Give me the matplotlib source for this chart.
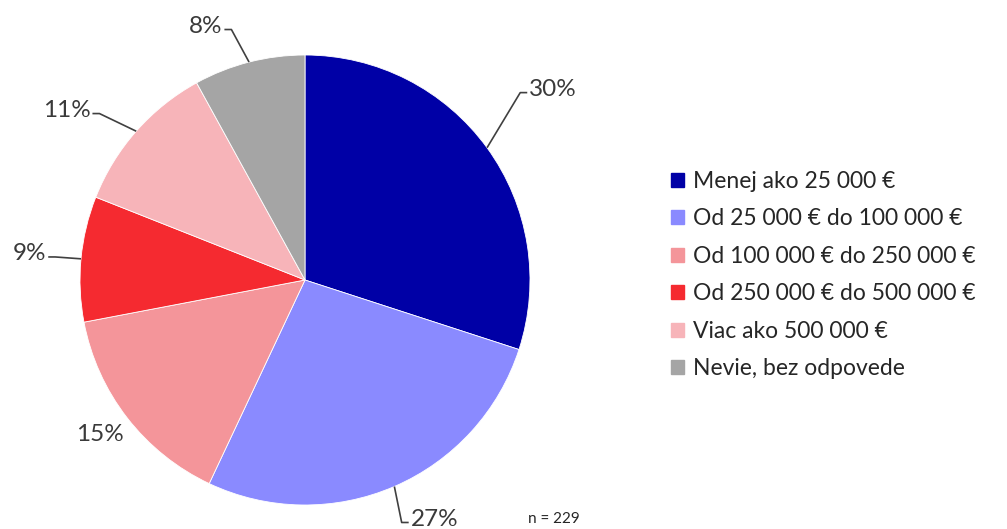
import numpy as np
import matplotlib.pyplot as plt

plt.rcParams['font.family'] = ['Lato', 'DejaVu Sans']

categories = ['Menej ako 25 000 €', 'Od 25 000 € do 100 000 €',
              'Od 100 000 € do 250 000 €', 'Od 250 000 € do 500 000 €',
              'Viac ako 500 000 €', 'Nevie, bez odpovede']
shares = [30, 27, 15, 9, 11, 8]
colors = ['#0000A6', '#8A8AFF', '#F4959A', '#F52A30', '#F7B4B9', '#A5A5A5']
n_resp = 229

# label placement: (distance in radii, angle nudge in degrees, leader line?)
label_layout = [(1.39, 1.5, True), (1.21, 5.0, True), (1.14, -0.7, False),
                (1.23, 0.0, True), (1.30, 6.0, True), (1.21, 7.0, True)]

W, H = 1007, 529
fig = plt.figure(figsize=(W / 100, H / 100), dpi=100)
ax = fig.add_axes([0, 0, 1, 1])

cx, cy, R = 305, H - 280, 225
wedges, _ = ax.pie(shares, colors=colors, startangle=90, counterclock=False,
                   center=(cx, cy), radius=R, frame=True,
                   wedgeprops=dict(edgecolor='white', linewidth=0.6))
ax.set_xlim(0, W)
ax.set_ylim(0, H)
ax.set_aspect('equal')
ax.axis('off')

fs = 17.5
texts = []
for w, val, (rf, nudge, lead) in zip(wedges, shares, label_layout):
    mid = np.deg2rad((w.theta1 + w.theta2) / 2)
    ang = mid + np.deg2rad(nudge)
    tx, ty = cx + rf * R * np.cos(ang), cy + rf * R * np.sin(ang)
    t = ax.text(tx, ty, f'{val}%', ha='center', va='center', fontsize=fs,
                color='#3a3a3a')
    texts.append((t, mid, ang, tx, ty, lead))

fig.canvas.draw()
rend = fig.canvas.get_renderer()
for t, mid, ang, tx, ty, lead in texts:
    if not lead:
        continue
    bb = t.get_window_extent(rend).transformed(ax.transData.inverted())
    ex, ey = cx + R * np.cos(mid), cy + R * np.sin(mid)
    if np.cos(ang) >= 0:
        hx, kx = bb.x0 - 2, bb.x0 - 9
    else:
        hx, kx = bb.x1 + 2, bb.x1 + 9
    ly = ty - 3
    ax.plot([ex, kx, hx], [ey, ly, ly], color='#404040', lw=1.2,
            solid_capstyle='butt')

handles = [plt.Rectangle((0, 0), 1, 1, color=c) for c in colors]
fig.legend(handles, categories, loc='center left', bbox_to_anchor=(0.646, 0.48),
           frameon=False, fontsize=16.5, handlelength=0.56, handleheight=0.56,
           handletextpad=0.4, labelspacing=0.72, labelcolor='#262626')

ax.text(528, H - 519, f'n = {n_resp}', fontsize=11, color='#262626', va='center')

fig.savefig('out.png', dpi=100)
